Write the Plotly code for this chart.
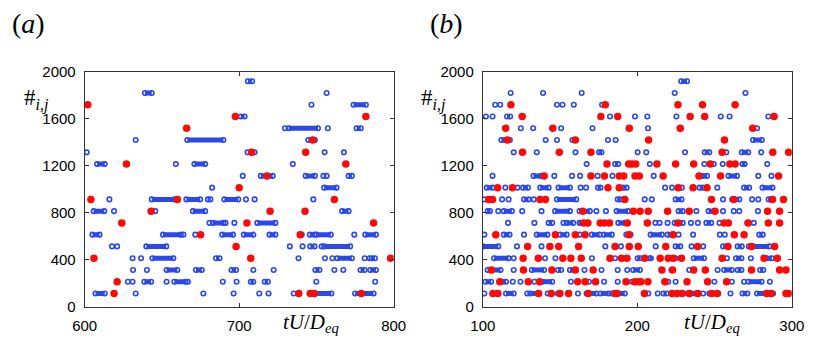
import plotly.graph_objects as go

# index levels (#i,j), shared by both panels
levels = [1920, 1820, 1720, 1620, 1520, 1420, 1315, 1215, 1115, 1015,
          915, 815, 715, 615, 515, 415, 315, 215, 115]

# ---- panel (a): 600 < tU/Deq < 800 ----
a_red = [
    [], [], [602], [697.5, 782], [666], [747.6], [708, 743], [627, 769],
    [718], [700], [604, 660, 761.6], [643, 720, 742.6], [624, 705, 787],
    [675, 739.5], [698], [606, 707.5, 798], [], [621],
    [619, 738.6, 746, 748.6, 779],
]
a_open = [
    [], [756.6], [746.8], [], [729.6, 757.4], [633],
    [601.3, 705.4, 710, 755.3, 767.8], [659, 734.7], [702.3, 754.5, 756.6],
    [682.5], [616, 679.7, 681.4, 704.4, 710, 748], [619, 645.7],
    [680.8, 691.2, 696.9], [663.9, 671.6, 740.5, 774.5],
    [617.7, 621, 732.8, 741, 753.4],
    [631, 636.5, 738.4, 755.5, 760.3, 781.2, 784.4],
    [631.3, 640.3, 709.2, 722.3, 761.6, 767.4],
    [628, 631, 653, 666.8, 689.4, 698.3, 749.9, 788],
    [633, 676.8, 696.4, 713, 719, 735.3],
]
a_runs = [
    [(705.6, 708.4)], [(639, 643.4)], [(774, 782)], [(701, 703.5)],
    [(732, 751), (776, 778.7)], [(666.4, 689.8), (744.7, 749)], [],
    [(608, 613), (671, 678)], [(714, 721.7), (743, 749), (770.8, 772.9)],
    [(755, 763)], [(643.4, 658), (665.8, 674.7), (690.4, 699.4)],
    [(605.8, 612.7), (670, 678), (766.6, 770.8)],
    [(683, 689.8), (711.7, 723.4)],
    [(605, 609.6), (650.7, 662.2), (689, 696), (703, 709.2), (719.6, 723.4),
     (745.7, 748.8), (750, 759.3), (781.6, 788.5)],
    [(639.9, 652.8), (746, 748.8), (755, 771.8)],
    [(643.8, 657.4), (685, 687.3), (763.5, 772.9), (785.8, 787.9)],
    [(653, 660), (672, 675.8), (695, 698), (749.3, 752), (778.5, 781.2),
     (784.8, 788.5)],
    [(638.6, 643), (658, 665.3), (707.5, 709.2), (716.5, 718.6)],
    [(607, 613), (749.3, 759.7), (775, 787)],
]

# ---- panel (b): 100 < tU/Deq < 300 ----
b_red = [
    [], [], [118.2, 179.3, 226.3, 242.2, 263.3],
    [125.5, 176.4, 187.3, 234.2, 243.6, 288.5],
    [114.8, 145.3, 194.8, 227.8, 274.7], [115.9, 159.9, 207.3, 256.4],
    [125.7, 149.5, 170, 254.9, 287.7, 297.9],
    [180.4, 194.4, 196.5, 199, 212.7, 224.8, 236.5, 247.2, 259.9, 263.3],
    [139.7, 170, 178.7, 188.3, 191.2, 198.5, 201.3, 216.7, 239.9, 253.9,
     291.4],
    [109.6, 119.2, 181, 188.3, 226.5, 236.1, 245.1],
    [103.8, 106.3, 137, 140.5, 191.9, 248, 262.4, 287.5, 294.6],
    [164.7, 197.4, 201.8, 207.1, 219.6, 233.6, 250.3, 284.3, 292.1],
    [165.3, 168, 176, 178.7, 182, 193.5, 206.5, 226.3, 256.2, 258.9, 271.8,
     284.8, 292.1],
    [108.4, 147, 159.9, 166.2, 194.6, 223.2, 262.8, 269.1],
    [129, 143.4, 149.1, 162, 185.6, 194.8, 200.6, 218.4, 239, 258.7, 273.9,
     288.9],
    [126.1, 135.9, 151.8, 157, 163.7, 182.3, 189.8, 193.3, 204.8, 214.8,
     220, 223.2, 228.6, 254.9, 282, 290.6],
    [105.6, 126.3, 144.7, 159.9, 171.4, 215.9, 222.8, 236.5, 244, 273.9,
     292.1, 296.2],
    [111, 129.4, 136.7, 161.4, 166.2, 173, 192.7, 198.3, 201, 202.3, 206.9,
     217.9, 232.2, 245.5, 257.8],
    [106.5, 109.8, 136.1, 144.3, 149.9, 155.5, 168.3, 185.6, 187, 204.6,
     222.5, 225.7, 229, 233.8, 239.2, 248.2, 251.6, 283.7, 286.6, 296.2,
     297.9],
]
b_open = [
    [], [118, 139, 164, 224.2, 270],
    [108, 111.3, 148, 151.6, 158.9, 177.2],
    [102, 106.3, 182.3, 198.5, 206.5, 225.3, 254, 259.7, 284.8],
    [124.6, 132.6, 150.7, 171, 206.9, 277.5],
    [117.5, 140.7, 148, 158, 181, 186],
    [120, 134.9, 160, 200.2, 205.8, 230.9, 257.6, 280.2],
    [167.2, 208.1, 243.4, 249.5, 255.3, 284.1],
    [106.3, 146.3, 157.8, 163, 174.3, 183.9, 210.6, 278.3, 286.8],
    [114.6, 122.5, 163.3, 166.8, 218, 222.5, 228.8, 251.8],
    [101, 112.5, 116.7, 133, 204.8, 209.4, 255.5, 274.3, 278.3],
    [110, 125.5, 138, 173.5, 179.7, 238.2, 255.5, 262.4, 266, 278.1],
    [116.3, 133.4, 152.2, 211.7, 214.4, 219.6, 234.7, 239.2, 253.2, 271.2,
     275.4],
    [101, 126.7, 162.6, 226.7, 236.1, 253.4, 256.6],
    [122.1, 138, 179.3, 189.4, 211.9, 235.1, 242.6, 272.2],
    [120, 140.3, 147, 170.6, 185.6, 224.8, 258, 273.5],
    [120, 165.8, 176.8, 187.3, 193.5, 222.1, 233.6, 252],
    [119.4, 124.4, 133.4, 157, 168.7, 178.5, 187.3, 196.5, 224.8, 249.9,
     261.2, 269.1, 285.8],
    [101, 107.3, 128.8, 142, 148.6, 161.6, 207.1, 213.2, 242.6, 260.3],
]
b_runs = [
    [(228.4, 232.2)], [], [], [(115.7, 117.7)], [],
    [(112, 114.6), (274.9, 280.6)],
    [(175.2, 176.8), (243.6, 246.6), (267.6, 271.8)],
    [(185.6, 187.7), (268, 269.5)],
    [(132.8, 137.6), (242, 245.1), (259, 264.5)],
    [(102.5, 106.3), (126, 129.2), (137.2, 142.6), (149, 156.4),
     (174.5, 176.2), (190.8, 193.1), (240.3, 242.6), (269.1, 272.4),
     (281, 287.5)],
    [(126.7, 129.6), (148, 160.5), (187.3, 189), (224.8, 228.6),
     (261.4, 266), (285, 286.6)],
    [(103.1, 104.6), (113.6, 118.8), (146.8, 156.4), (162.6, 169.3),
     (186.6, 194), (226.7, 229.4), (246.1, 249.7)],
    [(142.6, 144.9), (154.3, 158.5), (162.6, 163.7), (187.7, 191.9),
     (224.2, 229.4), (244.7, 247.8)],
    [(113.6, 117.3), (134.9, 141.8), (150.1, 154.3), (170.6, 175.6),
     (178.3, 183.5), (192.9, 195.6), (208.6, 215.9), (219.6, 222.5),
     (278.9, 281.2)],
    [(100, 110), (224.8, 227.8), (255.5, 258), (264.9, 267.6),
     (275, 285.4)],
    [(107.3, 116.7), (200.2, 201.9), (208, 208.8), (236.5, 243.2),
     (263.9, 267.4), (283.7, 287.1)],
    [(103.1, 111.5), (131.7, 139.7), (148.6, 150.7), (156.4, 159.5),
     (197.3, 201.7), (256.2, 261.2), (264.9, 267.4), (279.5, 281.6)],
    [(101.7, 105.4), (112.5, 115), (138.6, 144.9), (217.5, 220),
     (272, 280.4)],
    [(115, 120), (130.7, 135.9), (167.2, 173.5), (176.2, 181.4),
     (183.5, 191.9), (216.9, 219), (232.6, 237.8), (246.6, 252.4),
     (268.1, 271.2), (277.5, 287.9)],
]

BLUE = '#2a48ec'
RED = '#ff0808'
SERIF = 'Liberation Serif'

fig = go.Figure()

panels = [
    ('x', 'y', a_red, a_open, a_runs),
    ('x2', 'y2', b_red, b_open, b_runs),
]
for xa, ya, red, opn, runs in panels:
    # runs of overlapping circles -> thick bars with open ends
    rx, ry, ex, ey = [], [], [], []
    for lvl, segs in zip(levels, runs):
        for x0, x1 in segs:
            rx += [x0, x1, None]
            ry += [lvl, lvl, None]
            ex += [x0, x1]
            ey += [lvl, lvl]
    fig.add_trace(go.Scatter(
        x=rx, y=ry, mode='lines', xaxis=xa, yaxis=ya,
        line=dict(color=BLUE, width=5), hoverinfo='skip', showlegend=False,
    ))
    ox = [x for xs in opn for x in xs] + ex
    oy = [l for l, xs in zip(levels, opn) for _ in xs] + ey
    fig.add_trace(go.Scatter(
        x=ox, y=oy, mode='markers', xaxis=xa, yaxis=ya,
        marker=dict(symbol='circle-open', size=4.5, color=BLUE,
                    line=dict(width=1.6)),
        showlegend=False,
    ))
    fx = [x for xs in red for x in xs]
    fy = [l for l, xs in zip(levels, red) for _ in xs]
    fig.add_trace(go.Scatter(
        x=fx, y=fy, mode='markers', xaxis=xa, yaxis=ya,
        marker=dict(symbol='circle', size=7.5, color=RED),
        showlegend=False,
    ))

W, H = 830, 354
ydom = [(H - 313) / H, (H - 66) / H]
axis_style = dict(
    showline=True, linecolor='#333', linewidth=1, mirror='ticks',
    ticks='inside', ticklen=4, tickcolor='#333', showgrid=False,
    zeroline=False, tickfont=dict(family='Liberation Sans', size=15,
                                  color='black'),
    ticklabelstandoff=5,
)

fig.update_layout(
    width=W, height=H,
    margin=dict(l=0, r=0, t=0, b=0),
    paper_bgcolor='white', plot_bgcolor='white',
    xaxis=dict(domain=[74 / W, 393 / W], range=[600, 800],
               tickvals=[600, 700, 800], anchor='y', **axis_style),
    yaxis=dict(domain=ydom, range=[0, 2000], dtick=400, anchor='x',
               **axis_style),
    xaxis2=dict(domain=[485 / W, 804 / W], range=[100, 300],
                tickvals=[100, 200, 300], anchor='y2', **axis_style),
    yaxis2=dict(domain=ydom, range=[0, 2000], dtick=400, anchor='x2',
                **axis_style),
)

def px_note(text, x, y, size):
    fig.add_annotation(
        text=text, x=x / W, y=1 - y / H, xref='paper', yref='paper',
        showarrow=False, xanchor='center', yanchor='middle',
        font=dict(family=SERIF, size=size, color='black'),
    )

px_note('(<i>a</i>)', 16, 15, 28)
px_note('(<i>b</i>)', 448, 15, 28)
px_note('#<sub><i>i,j</i></sub>', 24, 95, 23)
px_note('#<sub><i>i,j</i></sub>', 434, 95, 23)
px_note('<i>tU</i>/<i>D</i><sub><i>eq</i></sub>', 308, 330, 21)
px_note('<i>tU</i>/<i>D</i><sub><i>eq</i></sub>', 722, 330, 21)

# page body has an 8px default margin; drop it so the figure fills the window
fig.write_html('out.html', config={'displayModeBar': False},
               post_script="document.body.style.margin='0';")
